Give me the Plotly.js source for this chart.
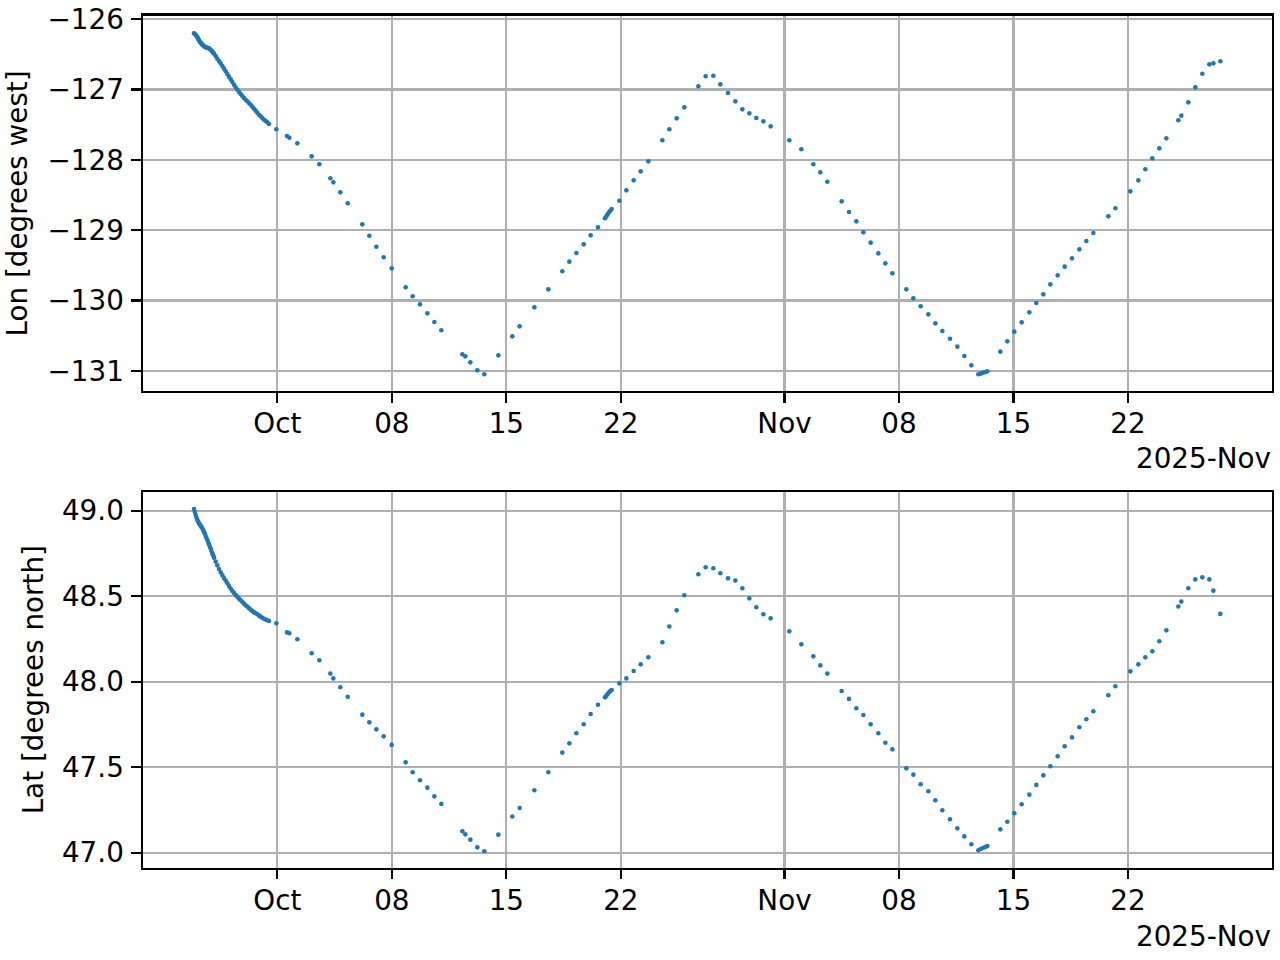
<!DOCTYPE html>
<html>
<head>
<meta charset="utf-8">
<script src="https://cdn.plot.ly/plotly-3.0.1.min.js"></script>
<style>html,body{margin:0;padding:0;background:#fff;}#chart{width:1280px;height:960px;}</style>
</head>
<body>
<div id="chart"></div>
<script>
// Observation times (UTC)
const times = [
'2025-09-25 21:48','2025-09-25 23:01','2025-09-26 00:14','2025-09-26 01:28','2025-09-26 02:41','2025-09-26 03:55','2025-09-26 05:08','2025-09-26 06:21','2025-09-26 07:35','2025-09-26 08:48','2025-09-26 10:01','2025-09-26 11:14','2025-09-26 12:28','2025-09-26 13:41','2025-09-26 14:55','2025-09-26 16:08','2025-09-26 17:22','2025-09-26 18:35','2025-09-26 19:48','2025-09-26 21:01','2025-09-26 22:15','2025-09-26 23:28','2025-09-27 00:41','2025-09-27 01:55',
'2025-09-27 03:08','2025-09-27 05:35','2025-09-27 08:02','2025-09-27 10:28','2025-09-27 12:55','2025-09-27 15:22','2025-09-27 17:49','2025-09-27 20:15','2025-09-27 22:42','2025-09-28 01:08','2025-09-28 03:35','2025-09-28 06:02','2025-09-28 08:29','2025-09-28 10:55','2025-09-28 13:22','2025-09-28 15:49','2025-09-28 18:16','2025-09-28 20:42','2025-09-28 23:09','2025-09-29 01:35','2025-09-29 04:02','2025-09-29 06:29','2025-09-29 08:56','2025-09-29 11:22','2025-09-29 13:49','2025-09-29 16:16','2025-09-29 18:43','2025-09-29 21:09','2025-09-29 23:36','2025-09-30 02:02','2025-09-30 04:29','2025-09-30 06:56','2025-09-30 09:23','2025-09-30 11:49',
'2025-09-30 22:35','2025-10-01 14:14','2025-10-01 17:39','2025-10-02 05:23','2025-10-03 02:25','2025-10-03 13:40','2025-10-04 05:48','2025-10-04 10:12','2025-10-04 20:28','2025-10-05 07:14','2025-10-06 04:44','2025-10-06 15:01','2025-10-07 01:17','2025-10-07 12:02','2025-10-07 23:47','2025-10-08 20:19','2025-10-09 06:35','2025-10-09 17:20','2025-10-10 04:06',
'2025-10-10 14:22','2025-10-11 00:38','2025-10-12 07:27','2025-10-12 11:51','2025-10-12 19:11','2025-10-13 05:27','2025-10-13 15:43','2025-10-14 12:15','2025-10-15 08:47','2025-10-15 19:33','2025-10-16 17:04','2025-10-17 13:37','2025-10-18 10:08','2025-10-18 20:25','2025-10-19 06:41','2025-10-19 17:26','2025-10-20 03:43','2025-10-20 14:28','2025-10-21 00:44','2025-10-21 02:41','2025-10-21 04:39','2025-10-21 06:36','2025-10-21 08:34','2025-10-21 10:31','2025-10-21 21:46','2025-10-22 08:02','2025-10-22 18:47','2025-10-23 05:04','2025-10-23 16:19','2025-10-24 12:50','2025-10-24 23:07','2025-10-25 09:52','2025-10-25 21:07','2025-10-26 17:40','2025-10-27 04:25',
'2025-10-27 15:40','2025-10-28 01:56','2025-10-28 13:11','2025-10-28 23:56','2025-10-29 10:12','2025-10-29 20:28','2025-10-30 06:44','2025-10-30 17:01','2025-10-31 03:46','2025-11-01 07:09','2025-11-02 00:46','2025-11-02 18:22','2025-11-03 04:38','2025-11-03 14:54','2025-11-04 11:56','2025-11-04 22:41','2025-11-05 09:26','2025-11-05 19:43','2025-11-06 06:28','2025-11-06 17:43','2025-11-07 03:59','2025-11-07 14:15','2025-11-08 10:47','2025-11-08 21:04','2025-11-09 07:49','2025-11-09 19:04','2025-11-10 05:20','2025-11-10 15:36','2025-11-11 02:51','2025-11-11 13:37','2025-11-11 23:53','2025-11-12 10:09','2025-11-12 20:25','2025-11-12 23:50','2025-11-13 03:16','2025-11-13 06:41','2025-11-13 09:37',
'2025-11-14 04:41','2025-11-14 14:58','2025-11-15 01:14','2025-11-15 11:59','2025-11-15 23:14','2025-11-16 09:30','2025-11-16 19:46','2025-11-17 06:02','2025-11-17 16:48','2025-11-18 03:04','2025-11-18 13:49','2025-11-19 00:35','2025-11-19 10:51','2025-11-19 21:07','2025-11-20 19:08','2025-11-21 05:23','2025-11-22 03:24','2025-11-22 15:08','2025-11-23 01:24','2025-11-23 11:40','2025-11-23 21:56','2025-11-24 08:13','2025-11-25 01:49','2025-11-25 06:13','2025-11-25 16:29','2025-11-26 02:45','2025-11-26 13:01','2025-11-26 23:17','2025-11-27 05:10','2025-11-27 15:26'
];

// Longitude (degrees, negative = west)
const lon = [
-126.204,-126.213,-126.223,-126.241,-126.260,-126.279,-126.303,-126.322,-126.336,-126.350,-126.365,-126.374,-126.388,-126.393,-126.402,-126.407,-126.412,-126.412,-126.417,-126.426,-126.436,-126.450,-126.464,-126.478,
-126.492,-126.526,-126.563,-126.597,-126.630,-126.668,-126.705,-126.743,-126.781,-126.819,-126.857,-126.895,-126.933,-126.971,-127.004,-127.037,-127.065,-127.094,-127.122,-127.146,-127.170,-127.193,-127.217,-127.245,-127.274,-127.302,-127.331,-127.359,-127.383,-127.406,-127.430,-127.449,-127.468,-127.491,
-127.567,-127.662,-127.686,-127.766,-127.951,-128.064,-128.263,-128.320,-128.462,-128.618,-128.917,-129.078,-129.234,-129.385,-129.542,-129.812,-129.939,-130.053,-130.181,
-130.304,-130.422,-130.763,-130.792,-130.877,-130.991,-131.047,-130.778,-130.508,-130.366,-130.096,-129.840,-129.584,-129.447,-129.324,-129.201,-129.073,-128.959,-128.831,-128.803,-128.775,-128.746,-128.723,-128.699,-128.581,-128.434,-128.292,-128.164,-128.022,-127.723,-127.567,-127.411,-127.255,-126.956,-126.814,
-126.805,-126.928,-127.051,-127.170,-127.283,-127.340,-127.406,-127.454,-127.525,-127.723,-127.851,-128.064,-128.178,-128.311,-128.590,-128.741,-128.874,-129.030,-129.177,-129.329,-129.471,-129.613,-129.840,-129.968,-130.081,-130.195,-130.323,-130.432,-130.541,-130.654,-130.787,-130.920,-131.047,-131.038,-131.024,-131.014,-131.005,
-130.725,-130.579,-130.441,-130.309,-130.167,-130.034,-129.911,-129.769,-129.641,-129.518,-129.400,-129.272,-129.153,-129.040,-128.803,-128.689,-128.448,-128.292,-128.135,-127.979,-127.837,-127.695,-127.439,-127.373,-127.184,-126.971,-126.777,-126.644,-126.630,-126.601
];

// Latitude (degrees north)
const lat = [
49.010,48.992,48.975,48.959,48.945,48.936,48.926,48.918,48.912,48.904,48.897,48.887,48.877,48.866,48.852,48.840,48.828,48.817,48.803,48.789,48.778,48.764,48.750,48.739,
48.725,48.702,48.680,48.659,48.639,48.622,48.606,48.591,48.575,48.559,48.544,48.530,48.519,48.507,48.497,48.485,48.476,48.466,48.456,48.446,48.439,48.429,48.421,48.413,48.405,48.400,48.394,48.386,48.380,48.374,48.368,48.363,48.359,48.355,
48.341,48.288,48.283,48.248,48.166,48.125,48.047,48.019,47.967,47.912,47.807,47.762,47.721,47.680,47.630,47.528,47.470,47.423,47.380,
47.329,47.285,47.125,47.107,47.076,47.031,47.008,47.105,47.211,47.261,47.365,47.470,47.585,47.639,47.698,47.751,47.811,47.865,47.908,47.918,47.928,47.938,47.945,47.951,47.990,48.019,48.062,48.101,48.142,48.230,48.322,48.417,48.505,48.628,48.669,
48.663,48.634,48.604,48.591,48.546,48.487,48.435,48.394,48.370,48.294,48.218,48.148,48.095,48.047,47.945,47.899,47.844,47.805,47.751,47.698,47.643,47.604,47.493,47.456,47.400,47.359,47.306,47.248,47.195,47.142,47.095,47.049,47.014,47.021,47.027,47.033,47.039,
47.136,47.181,47.230,47.283,47.339,47.396,47.452,47.505,47.563,47.622,47.674,47.733,47.780,47.827,47.920,47.973,48.060,48.101,48.142,48.177,48.236,48.300,48.439,48.468,48.546,48.598,48.610,48.598,48.532,48.396
];

// Tick labels
const xTickVals = ['2025-10-01','2025-10-08','2025-10-15','2025-10-22','2025-11-01','2025-11-08','2025-11-15','2025-11-22'];
const xTickText = ['Oct','08','15','22','Nov','08','15','22'];
const lonTickVals = [-131,-130,-129,-128,-127,-126];
const lonTickText = ['\u2212131','\u2212130','\u2212129','\u2212128','\u2212127','\u2212126'];
const latTickVals = [47.0,47.5,48.0,48.5,49.0];
const latTickText = ['47.0','47.5','48.0','48.5','49.0'];
const offsetLabel = '2025-Nov';
const lonTitle = 'Lon [degrees west]';
const latTitle = 'Lat [degrees north]';

const FONT = {family:'DejaVu Sans, sans-serif', size:27.8, color:'#000'};
const BLUE = '#1f77b4';

const xRange = ['2025-09-22 19:25','2025-11-30 18:47'];

function xAxis(anchor){
  return {
    anchor: anchor, domain:[0.11195, 0.99352], type:'date', range: xRange,
    tickmode:'array', tickvals:xTickVals, ticktext:xTickText,
    showgrid:true, gridcolor:'#b0b0b0', gridwidth:2.2,
    showline:true, linecolor:'#000', linewidth:2.2, mirror:true,
    ticks:'outside', ticklen:9.7, tickwidth:2.2, tickcolor:'#000',
    ticklabelstandoff:-3,
    zeroline:false, tickfont:FONT, tickangle:0
  };
}
function yAxis(anchor, domain, range, tv, tt, title, standoff){
  return {
    anchor: anchor, domain: domain, range: range,
    tickmode:'array', tickvals:tv, ticktext:tt,
    showgrid:true, gridcolor:'#b0b0b0', gridwidth:2.2,
    showline:true, linecolor:'#000', linewidth:2.2, mirror:true,
    ticks:'outside', ticklen:9.7, tickwidth:2.2, tickcolor:'#000',
    ticklabelstandoff:2,
    zeroline:false, tickfont:FONT,
    title:{text:title, font:FONT, standoff:standoff}
  };
}

const data = [
  {x:times, y:lon, xaxis:'x', yaxis:'y', type:'scatter', mode:'markers',
   marker:{color:BLUE, size:4.6, line:{width:0}}, showlegend:false, hoverinfo:'x+y'},
  {x:times, y:lat, xaxis:'x2', yaxis:'y2', type:'scatter', mode:'markers',
   marker:{color:BLUE, size:4.6, line:{width:0}}, showlegend:false, hoverinfo:'x+y'}
];

const layout = {
  width:1280, height:960,
  margin:{l:0, r:0, t:0, b:0, pad:0},
  paper_bgcolor:'#fff', plot_bgcolor:'#fff',
  font:FONT,
  showlegend:false,
  xaxis: xAxis('y'),
  yaxis: yAxis('x', [0.59250, 0.98365], [-131.287, -125.953], lonTickVals, lonTickText, lonTitle, 12),
  xaxis2: xAxis('y2'),
  yaxis2: yAxis('x2', [0.09635, 0.48750], [46.913, 49.109], latTickVals, latTickText, latTitle, 10),
  annotations:[
    {text:offsetLabel, xref:'paper', yref:'paper', x:1272.5/1280, y:1-458.3/960,
     xanchor:'right', yanchor:'middle', showarrow:false, font:FONT},
    {text:offsetLabel, xref:'paper', yref:'paper', x:1272.5/1280, y:1-936.3/960,
     xanchor:'right', yanchor:'middle', showarrow:false, font:FONT}
  ]
};

Plotly.newPlot('chart', data, layout, {staticPlot:true, displayModeBar:false});
</script>
</body>
</html>
